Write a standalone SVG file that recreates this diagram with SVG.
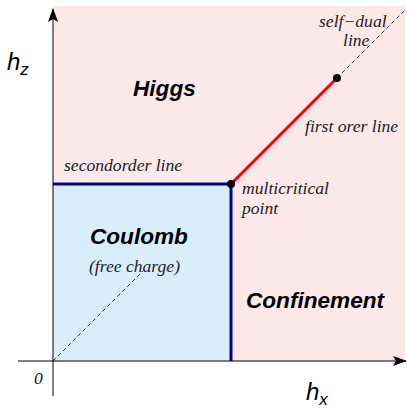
<svg xmlns="http://www.w3.org/2000/svg" width="407" height="409" viewBox="0 0 407 409">
<style>
.ser{font-family:"Liberation Serif","DejaVu Serif",serif;font-style:italic;font-size:17.6px;fill:#222}
.big{font-family:"Liberation Sans",Arial,sans-serif;font-style:italic;font-weight:bold;font-size:22.6px;fill:#000}
.ax{font-family:"Liberation Sans",Arial,sans-serif;font-style:italic;font-size:24px;fill:#000}
.sub{font-size:17px}
</style>
<defs>
<marker id="arr" viewBox="0 0 14 10" refX="13" refY="5" markerWidth="14" markerHeight="10" markerUnits="userSpaceOnUse" orient="auto">
<path d="M0,0 L14,5 L0,10 L3,5 Z" fill="#000"/>
</marker>
</defs>
<g id="regions">
<rect x="53" y="6" width="352" height="355" fill="#fde8ea"/>
<rect x="53" y="184" width="178" height="177" fill="#d9eefd"/>
</g>
<g id="connectors">
<line x1="53" y1="361" x2="143" y2="271" stroke="#333" stroke-width="1" stroke-dasharray="4,3"/>
<line x1="337" y1="78" x2="405" y2="10" stroke="#333" stroke-width="1" stroke-dasharray="4,3"/>
<line x1="231" y1="184" x2="337" y2="78" stroke="#f00" stroke-width="3"/>
<polyline points="53,184 231,184 231,361" fill="none" stroke="#000090" stroke-width="3"/>
<line x1="53" y1="396" x2="53" y2="9" stroke="#000" stroke-width="1" marker-end="url(#arr)"/>
<line x1="18" y1="361" x2="406" y2="361" stroke="#000" stroke-width="1" marker-end="url(#arr)"/>
</g>
<g id="multicritical">
<circle cx="231" cy="184" r="4" fill="#000"/>
<text class="ser" x="242" y="194">multicritical</text>
<text class="ser" x="242" y="214">point</text>
</g>
<g id="selfdual">
<circle cx="337" cy="78" r="4" fill="#000"/>
<text class="ser" x="319" y="27">self−dual</text>
<text class="ser" x="343" y="46">line</text>
</g>
<g id="labels">
<text class="ax" x="7" y="70">h<tspan class="sub" dy="5">z</tspan></text>
<text class="ax" x="306" y="400">h<tspan class="sub" dy="5">x</tspan></text>
<text class="ser" x="34" y="384">0</text>
<text class="big" x="133" y="96">Higgs</text>
<text class="ser" x="305" y="132">first orer line</text>
<text class="ser" x="64" y="171">secondorder line</text>
<text class="big" x="90" y="244">Coulomb</text>
<text class="ser" x="89" y="272">(free charge)</text>
<text class="big" x="246" y="308">Confinement</text>
</g>
</svg>
